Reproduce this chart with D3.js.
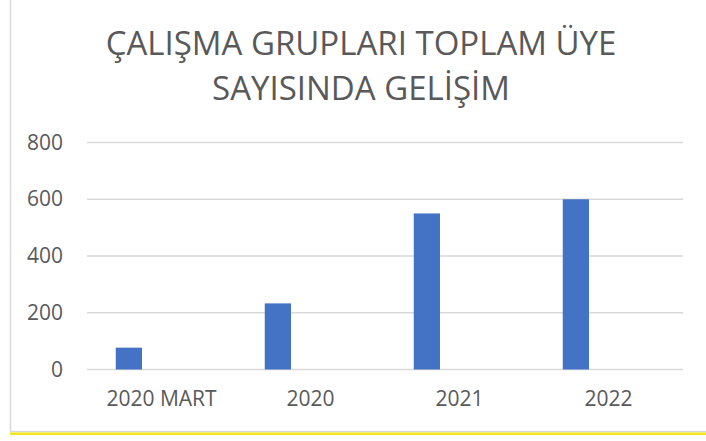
<!DOCTYPE html>
<html>
<head>
<meta charset="utf-8">
<script src="https://cdn.jsdelivr.net/npm/d3@7"></script>
<style>
  html, body { margin: 0; padding: 0; background: #fff; }
  svg { display: block; font-family: "Open Sans", sans-serif; }
</style>
</head>
<body>
<div id="chart"></div>
<script>
const categories = ["2020 MART", "2020", "2021", "2022"];
const values = [77, 233, 550, 600];
const yTicks = [0, 200, 400, 600, 800];
const titleLines = ["ÇALIŞMA GRUPLARI TOPLAM ÜYE", "SAYISINDA GELİŞİM"];

const W = 706, H = 441;
const margin = { top: 142.5, right: 23, bottom: 71.5, left: 87 };
const width = W - margin.left - margin.right;
const height = H - margin.top - margin.bottom;

const svg = d3.select("#chart")
  .append("svg")
  .attr("width", W)
  .attr("height", H);

// chart frame (left edge and bottom, with yellow underline)
svg.append("rect")
  .attr("x", 10.5)
  .attr("y", -5)
  .attr("width", W + 10)
  .attr("height", 436.5)
  .attr("fill", "none")
  .attr("stroke", "#d9d9d9")
  .attr("stroke-width", 1.5);

svg.append("line")
  .attr("x1", 10)
  .attr("x2", W)
  .attr("y1", 433.8)
  .attr("y2", 433.8)
  .attr("stroke", "#f2e61c")
  .attr("stroke-width", 2.6);

// title
svg.append("text")
  .attr("x", 361)
  .attr("text-anchor", "middle")
  .attr("fill", "#595959")
  .style("font-size", "33px")
  .selectAll("tspan")
  .data(titleLines)
  .enter()
  .append("tspan")
  .attr("x", 361)
  .attr("y", (d, i) => 55 + i * 45)
  .text(d => d);

const g = svg.append("g")
  .attr("transform", `translate(${margin.left},${margin.top})`);

const x = d3.scaleBand()
  .domain(categories)
  .range([0, width])
  .padding(0);

const y = d3.scaleLinear()
  .domain([0, 800])
  .range([height, 0]);

// gridlines
g.selectAll(".grid")
  .data(yTicks)
  .enter()
  .append("line")
  .attr("x1", 0)
  .attr("x2", width)
  .attr("y1", d => y(d))
  .attr("y2", d => y(d))
  .attr("stroke", "#d9d9d9")
  .attr("stroke-width", 1.5);

// y axis labels
const yAxis = g.append("g")
  .call(d3.axisLeft(y).tickValues(yTicks).tickSize(0).tickPadding(24));
yAxis.select(".domain").remove();
yAxis.selectAll("text")
  .attr("fill", "#595959")
  .style("font-size", "21px")
  .style("font-family", "Open Sans, sans-serif");

// x axis labels
const xAxis = g.append("g")
  .attr("transform", `translate(0,${height})`)
  .call(d3.axisBottom(x).tickSize(0).tickPadding(22));
xAxis.select(".domain").remove();
xAxis.selectAll("text")
  .attr("fill", "#595959")
  .style("font-size", "21px")
  .style("font-family", "Open Sans, sans-serif");

// bars
g.selectAll(".bar")
  .data(values)
  .enter()
  .append("rect")
  .attr("x", (d, i) => x(categories[i]) + x.bandwidth() * 0.193)
  .attr("width", x.bandwidth() * 0.176)
  .attr("y", d => y(d))
  .attr("height", d => height - y(d))
  .attr("fill", "#4472c4");
</script>
</body>
</html>
